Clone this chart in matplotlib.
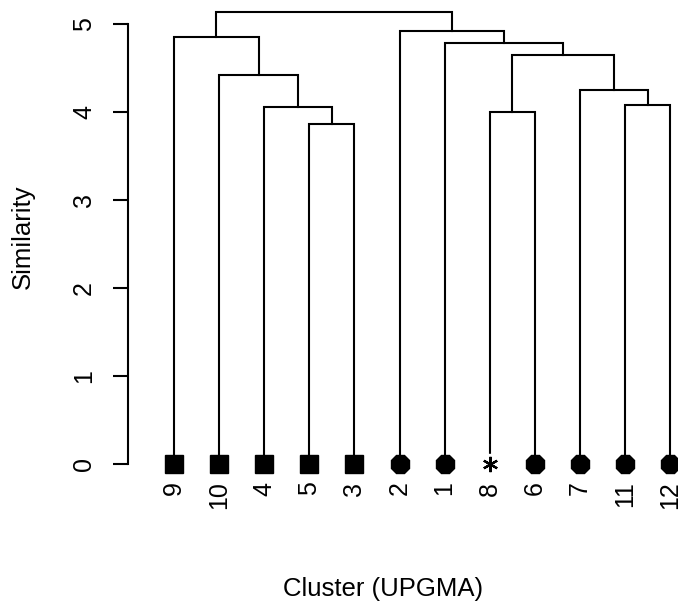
import matplotlib
matplotlib.use("Agg")
import matplotlib.pyplot as plt

# ---- data ----
leaf_labels = ['9', '10', '4', '5', '3', '2', '1', '8', '6', '7', '11', '12']
leaf_groups = ['A', 'A', 'A', 'A', 'A', 'B', 'B', 'C', 'B', 'B', 'B', 'B']
# merges: (child_a, child_b, height); children are leaf labels or merge indices
merges = [
    ('5', '3', 3.86),
    ('4', 0, 4.06),
    ('10', 1, 4.42),
    ('9', 2, 4.85),
    ('11', '12', 4.08),
    ('7', 4, 4.25),
    ('8', '6', 4.00),
    (6, 5, 4.65),
    ('1', 7, 4.78),
    ('2', 8, 4.92),
    (3, 9, 5.14),
]
y_ticks = [0, 1, 2, 3, 4, 5]

FONT = ['Liberation Sans', 'DejaVu Sans']
plt.rcParams['font.family'] = FONT

W, H = 678, 607
fig = plt.figure(figsize=(W / 100, H / 100), dpi=100)
ax = fig.add_axes([128 / W, 1 - 480 / H, 550 / W, 480 / H])

lw = 1.5
leaf_x = {lab: i for i, lab in enumerate(leaf_labels)}
node_x, node_h = {}, {}

def pos(c):
    if isinstance(c, str):
        return leaf_x[c], 0.0
    return node_x[c], node_h[c]

for k, (a, b, h) in enumerate(merges):
    xa, ha = pos(a)
    xb, hb = pos(b)
    ax.plot([xa, xa, xb, xb], [ha, h, h, hb], color='black', lw=lw,
            solid_joinstyle='miter', clip_on=False)
    node_x[k] = (xa + xb) / 2
    node_h[k] = h

style = {'A': dict(marker='s', ms=13),
         'B': dict(marker='8', ms=14),
         'C': dict(marker=(6, 2, 0), ms=11, mew=1.6)}
for lab, g in zip(leaf_labels, leaf_groups):
    x = leaf_x[lab]
    if g == 'C':
        ax.plot([x], [0.0], marker='s', ms=14, color='white', mec='white',
                linestyle='none', clip_on=False, zorder=3)
    ax.plot([x], [0.0], color='black', linestyle='none', clip_on=False,
            zorder=4, **style[g])
    ax.text(x, -0.2, lab, rotation=90, ha='center', va='top', fontsize=18)

ax.set_xlim(-1.02, 11.175)
ax.set_ylim(-0.1818, 5.2727)
for s in ['top', 'right', 'bottom']:
    ax.spines[s].set_visible(False)
ax.spines['left'].set_bounds(0, 5)
ax.spines['left'].set_linewidth(lw)
ax.set_xticks([])
ax.set_yticks(y_ticks)
ax.set_yticklabels([str(t) for t in y_ticks], rotation=90, va='center',
                   fontsize=18)
ax.tick_params(axis='y', length=11, width=lw, pad=12)

fig.text(383 / W, 1 - 589 / H, 'Cluster (UPGMA)', ha='center', va='center',
         fontsize=18.5)
fig.text(23 / W, 1 - 237 / H, 'Similarity', ha='center', va='center',
         rotation=90, fontsize=18.5)

fig.savefig('out.png', dpi=100, facecolor='white')
